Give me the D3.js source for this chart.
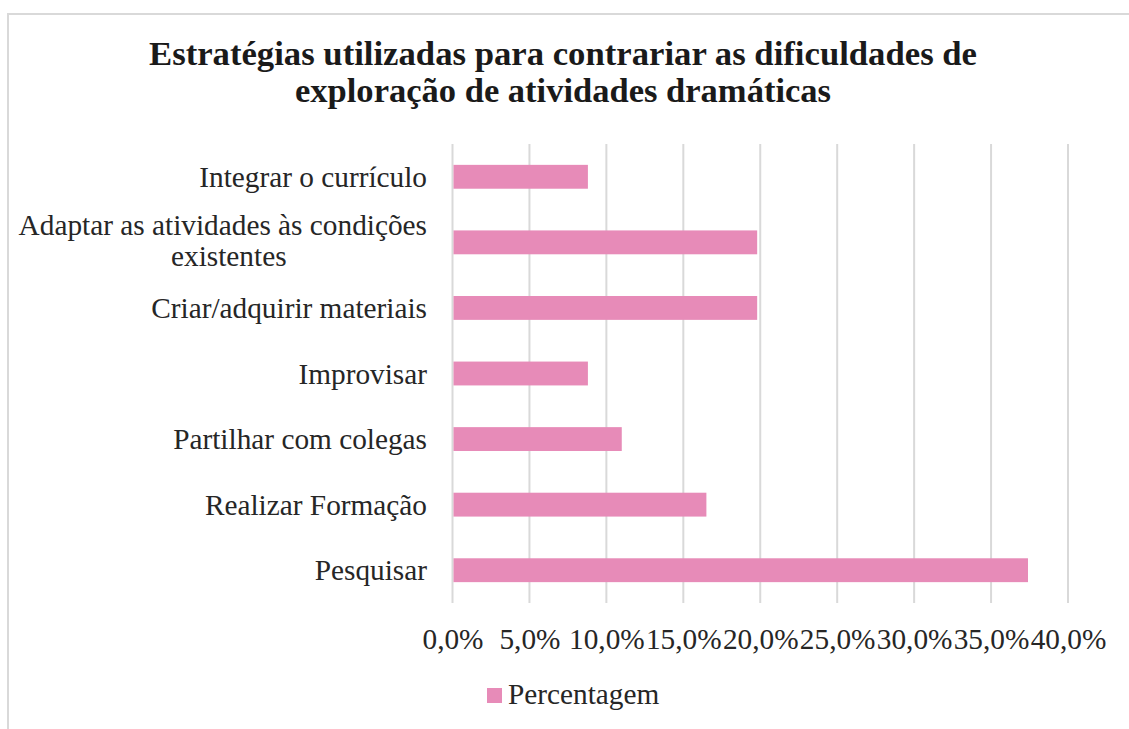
<!DOCTYPE html>
<html>
<head>
<meta charset="utf-8">
<script src="https://cdn.jsdelivr.net/npm/d3@7"></script>
<style>
  body { margin: 0; background: #fff; }
  svg { display: block; font-family: "Liberation Serif", "Times New Roman", serif; }
  .grid line { stroke: #d9d9d9; stroke-width: 2; }
  .axis text { fill: #262626; font-size: 29.3px; font-family: "Liberation Serif", "Times New Roman", serif; }
</style>
</head>
<body>
<svg width="1129" height="729"></svg>
<script>
const titleLines = ["Estratégias utilizadas para contrariar as dificuldades de",
                    "exploração de atividades dramáticas"];
const categories = ["Integrar o currículo",
                    "Adaptar as atividades às condições existentes",
                    "Criar/adquirir materiais",
                    "Improvisar",
                    "Partilhar com colegas",
                    "Realizar Formação",
                    "Pesquisar"];
// label line breaks as drawn in the chart
const labelLines = [["Integrar o currículo"],
                    ["Adaptar as atividades às condições", "existentes"],
                    ["Criar/adquirir materiais"],
                    ["Improvisar"],
                    ["Partilhar com colegas"],
                    ["Realizar Formação"],
                    ["Pesquisar"]];
const values = [8.8, 19.8, 19.8, 8.8, 11.0, 16.5, 37.4];
const tickValues = [0, 5, 10, 15, 20, 25, 30, 35, 40];
const seriesName = "Percentagem";

const barColor = "#e78bb8";

var svg = d3.select("svg");

// outer chart border (goes off the right and bottom edge)
svg.append("rect")
    .attr("x", 8).attr("y", 14)
    .attr("width", 1140).attr("height", 740)
    .attr("fill", "none")
    .attr("stroke", "#d9d9d9")
    .attr("stroke-width", 2);

var x = d3.scaleLinear()
    .domain([0, 40])
    .range([452.5, 1068]);

var y = d3.scaleBand()
    .domain(categories)
    .range([144, 603])
    .paddingInner(0.636)
    .paddingOuter(0.318);

// title
var title = svg.append("g")
    .attr("font-weight", "bold")
    .attr("font-size", 34)
    .attr("fill", "#1a1a1a")
    .attr("text-anchor", "middle");
title.selectAll("text")
    .data(titleLines)
    .join("text")
    .attr("x", 563)
    .attr("y", (d, i) => 65 + i * 37)
    .attr("textLength", (d, i) => i == 0 ? 828 : 536)
    .attr("lengthAdjust", "spacingAndGlyphs")
    .text(d => d);

// vertical gridlines
svg.append("g")
    .attr("class", "grid")
    .selectAll("line")
    .data(tickValues)
    .join("line")
    .attr("x1", d => x(d)).attr("x2", d => x(d))
    .attr("y1", 144).attr("y2", 603);

// bars
svg.append("g")
    .selectAll("rect")
    .data(values)
    .join("rect")
    .attr("x", x(0) + 1)
    .attr("y", (d, i) => y(categories[i]))
    .attr("width", d => x(d) - x(0) - 1)
    .attr("height", y.bandwidth())
    .attr("fill", barColor);

// x axis labels
var fmt = d => d3.format(".1f")(d).replace(".", ",") + "%";
var xAxis = d3.axisBottom(x)
    .tickValues(tickValues)
    .tickFormat(fmt)
    .tickSize(0)
    .tickPadding(0);

var gX = svg.append("g")
    .attr("class", "axis")
    .attr("transform", "translate(0,628)")
    .call(xAxis);
gX.attr("font-family", null).attr("font-size", null);
gX.select(".domain").remove();
gX.selectAll("text")
    .attr("dy", null)
    .attr("y", 21);

// category labels
var labels = svg.append("g")
    .attr("class", "axis");

categories.forEach((c, i) => {
    var lines = labelLines[i];
    var cy = y(c) + y.bandwidth() / 2;
    if (lines.length == 1) {
        labels.append("text")
            .attr("x", 427)
            .attr("y", cy + 10)
            .attr("text-anchor", "end")
            .text(lines[0]);
    } else {
        var first = labels.append("text")
            .attr("x", 427)
            .attr("y", cy - 7)
            .attr("text-anchor", "end")
            .text(lines[0]);
        var w = first.node().getComputedTextLength();
        labels.append("text")
            .attr("x", 427 - w / 2 + 6)
            .attr("y", cy + 24)
            .attr("text-anchor", "middle")
            .text(lines[1]);
    }
});

// legend
var legend = svg.append("g").attr("transform", "translate(487,688)");
legend.append("rect")
    .attr("width", 15).attr("height", 15)
    .attr("fill", barColor);
legend.append("text")
    .attr("x", 21).attr("y", 16)
    .attr("font-size", 29.3)
    .attr("fill", "#262626")
    .text(seriesName);
</script>
</body>
</html>
